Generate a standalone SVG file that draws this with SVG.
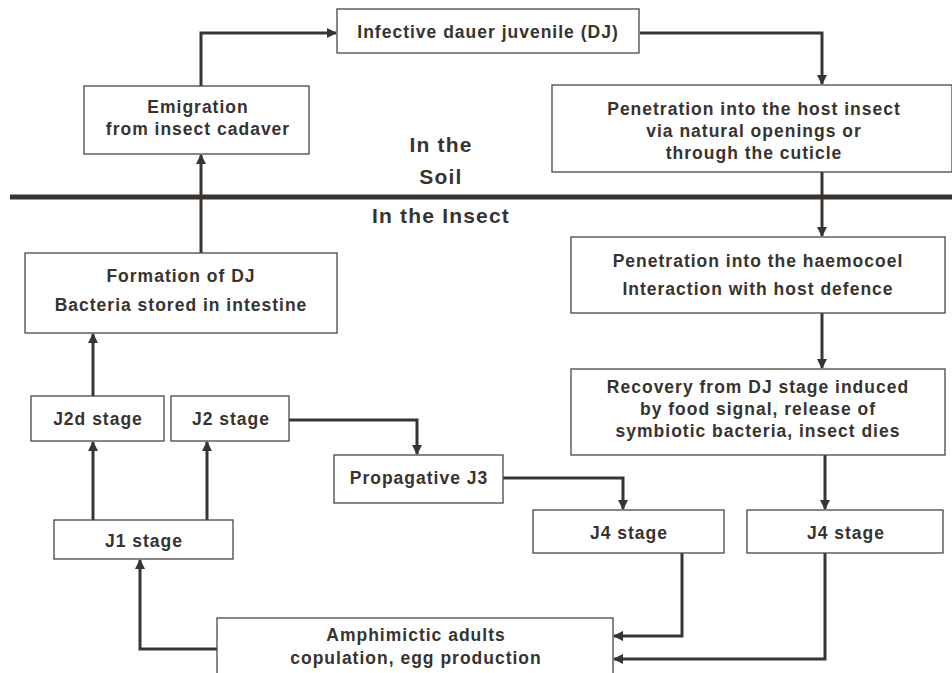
<svg xmlns="http://www.w3.org/2000/svg" width="952" height="673" viewBox="0 0 952 673">
<defs>
<marker id="ah" viewBox="0 0 10 10" refX="9" refY="5" markerWidth="10" markerHeight="10" markerUnits="userSpaceOnUse" orient="auto">
<path d="M0,0 L10,5 L0,10 z" fill="#3a3431"/>
</marker>
<style>
.box{fill:#fff;stroke:#4a4542;stroke-width:1.3}
.t{font-family:"Liberation Sans",Arial,sans-serif;font-weight:bold;font-size:17.5px;fill:#38332f;text-anchor:middle;letter-spacing:1px}
.big{font-size:21px;letter-spacing:1.2px}
.c{fill:none;stroke:#3a3431;stroke-width:3;marker-end:url(#ah)}
</style>
</defs>
<rect width="952" height="673" fill="#fff"/>
<g id="divider">
<line x1="10" y1="197" x2="952" y2="197" stroke="#3a3431" stroke-width="5"/>
<text class="t big" x="441" y="152">In the</text>
<text class="t big" x="441" y="184">Soil</text>
<text class="t big" x="441" y="223">In the Insect</text>
</g>
<g id="connectors">
<path class="c" d="M201,86 V33 H336"/>
<path class="c" d="M640,33 H822 V84"/>
<path class="c" d="M822,172 V236"/>
<path class="c" d="M822,313 V368"/>
<path class="c" d="M825,455 V509"/>
<path class="c" d="M201,253 V155"/>
<path class="c" d="M93,396 V334"/>
<path class="c" d="M93,520 V442"/>
<path class="c" d="M207,520 V442"/>
<path class="c" d="M289,420 H417 V454"/>
<path class="c" d="M503,478 H623 V509"/>
<path class="c" d="M682,553 V636 H614"/>
<path class="c" d="M825,553 V659 H614"/>
<path class="c" d="M217,649 H140 V560"/>
</g>
<g id="infective">
<rect class="box" x="337" y="9" width="302" height="44"/>
<text class="t" x="488" y="38">Infective dauer juvenile (DJ)</text>
</g>
<g id="emigration">
<rect class="box" x="84" y="86" width="225" height="68"/>
<text class="t" x="198" y="113">Emigration</text>
<text class="t" x="198" y="135">from insect cadaver</text>
</g>
<g id="penetration-host">
<rect class="box" x="552" y="85" width="400" height="87"/>
<text class="t" x="754" y="115">Penetration into the host insect</text>
<text class="t" x="754" y="137">via natural openings or</text>
<text class="t" x="754" y="159">through the cuticle</text>
</g>
<g id="formation">
<rect class="box" x="25" y="253" width="312" height="80"/>
<text class="t" x="181" y="282">Formation of DJ</text>
<text class="t" x="181" y="311">Bacteria stored in intestine</text>
</g>
<g id="haemocoel">
<rect class="box" x="571" y="237" width="374" height="76"/>
<text class="t" x="758" y="267">Penetration into the haemocoel</text>
<text class="t" x="758" y="295">Interaction with host defence</text>
</g>
<g id="recovery">
<rect class="box" x="571" y="369" width="374" height="86"/>
<text class="t" x="758" y="393">Recovery from DJ stage induced</text>
<text class="t" x="758" y="415">by food signal, release of</text>
<text class="t" x="758" y="437">symbiotic bacteria, insect dies</text>
</g>
<g id="j2d">
<rect class="box" x="31" y="396" width="133" height="45"/>
<text class="t" x="98" y="425">J2d stage</text>
</g>
<g id="j2">
<rect class="box" x="171" y="396" width="118" height="45"/>
<text class="t" x="231" y="425">J2 stage</text>
</g>
<g id="propagative-j3">
<rect class="box" x="334" y="455" width="169" height="48"/>
<text class="t" x="419" y="484">Propagative J3</text>
</g>
<g id="j1">
<rect class="box" x="54" y="520" width="179" height="39"/>
<text class="t" x="144" y="547">J1 stage</text>
</g>
<g id="j4-left">
<rect class="box" x="533" y="510" width="191" height="43"/>
<text class="t" x="629" y="539">J4 stage</text>
</g>
<g id="j4-right">
<rect class="box" x="747" y="510" width="196" height="43"/>
<text class="t" x="846" y="539">J4 stage</text>
</g>
<g id="amphimictic">
<rect class="box" x="217" y="618" width="396" height="70"/>
<text class="t" x="416" y="641">Amphimictic adults</text>
<text class="t" x="416" y="664">copulation, egg production</text>
</g>
</svg>
